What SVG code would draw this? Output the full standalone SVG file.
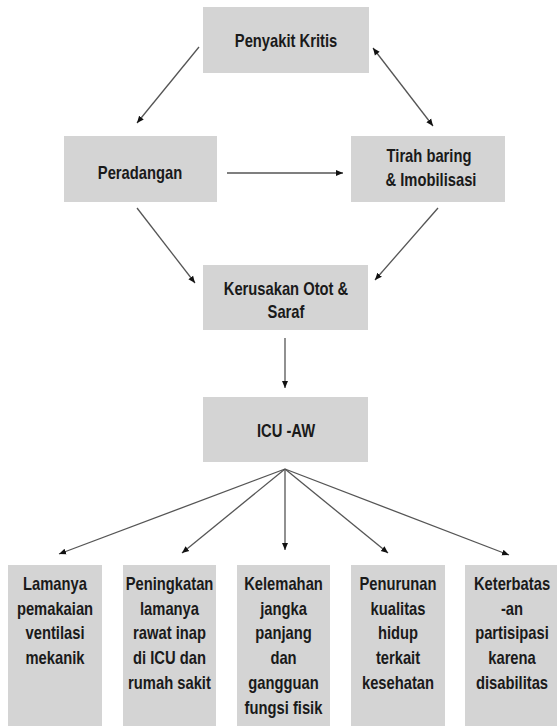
<svg xmlns="http://www.w3.org/2000/svg" width="557" height="726" viewBox="0 0 557 726">
<style>
.box{fill:#d4d4d4;}
.t{font-family:"Liberation Sans",Arial,sans-serif;font-weight:bold;font-size:18px;fill:#1a1a1a;text-anchor:middle;}
.c{stroke:#555;stroke-width:1.3;fill:none;marker-end:url(#ah);}
</style>
<defs>
<marker id="ah" markerUnits="userSpaceOnUse" markerWidth="8" markerHeight="8" refX="7" refY="4" orient="auto">
<path d="M0,1 L7,4 L0,7 Z" fill="#111"/>
</marker>
<marker id="as" markerUnits="userSpaceOnUse" markerWidth="8" markerHeight="8" refX="0" refY="4" orient="auto">
<path d="M7,1 L0,4 L7,7 Z" fill="#111"/>
</marker>
</defs>
<rect width="557" height="726" fill="#fff"/>
<g id="connectors">
<line class="c" x1="199" y1="47" x2="137" y2="123"/>
<line class="c" x1="373" y1="48" x2="433" y2="126" marker-start="url(#as)"/>
<line class="c" x1="227" y1="173" x2="343" y2="173"/>
<line class="c" x1="137" y1="208" x2="195" y2="283"/>
<line class="c" x1="438" y1="208" x2="375" y2="280"/>
<line class="c" x1="285" y1="338" x2="285" y2="388"/>
<line class="c" x1="285" y1="469" x2="59" y2="554"/>
<line class="c" x1="285" y1="469" x2="182" y2="553"/>
<line class="c" x1="285" y1="469" x2="285" y2="550"/>
<line class="c" x1="285" y1="469" x2="388" y2="553"/>
<line class="c" x1="285" y1="469" x2="509" y2="555"/>
</g>
<g id="penyakit-kritis">
<rect class="box" x="203" y="7" width="166" height="66"/>
<text class="t" transform="matrix(.82 0 0 1 286 47)">Penyakit Kritis</text>
</g>
<g id="peradangan">
<rect class="box" x="64" y="136" width="153" height="66"/>
<text class="t" transform="matrix(.82 0 0 1 140 179)">Peradangan</text>
</g>
<g id="tirah-baring">
<rect class="box" x="351" y="136" width="154" height="66"/>
<text class="t" transform="matrix(.82 0 0 1 429 162)">Tirah baring</text>
<text class="t" transform="matrix(.82 0 0 1 431 186)">&amp; Imobilisasi</text>
</g>
<g id="kerusakan">
<rect class="box" x="203" y="265" width="165" height="65"/>
<text class="t" transform="matrix(.82 0 0 1 286 295)">Kerusakan Otot &amp;</text>
<text class="t" transform="matrix(.82 0 0 1 286 318)">Saraf</text>
</g>
<g id="icu-aw">
<rect class="box" x="203" y="397" width="165" height="65"/>
<text class="t" transform="matrix(.82 0 0 1 286 437)">ICU -AW</text>
</g>
<g id="lamanya">
<rect class="box" x="8" y="565" width="94" height="165"/>
<text class="t" transform="matrix(.82 0 0 1 55 590)">Lamanya</text>
<text class="t" transform="matrix(.82 0 0 1 55 614.7)">pemakaian</text>
<text class="t" transform="matrix(.82 0 0 1 55 639.4)">ventilasi</text>
<text class="t" transform="matrix(.82 0 0 1 55 664.1)">mekanik</text>
</g>
<g id="peningkatan">
<rect class="box" x="123" y="565" width="93" height="165"/>
<text class="t" transform="matrix(.82 0 0 1 169.5 590)">Peningkatan</text>
<text class="t" transform="matrix(.82 0 0 1 169.5 614.7)">lamanya</text>
<text class="t" transform="matrix(.82 0 0 1 169.5 639.4)">rawat inap</text>
<text class="t" transform="matrix(.82 0 0 1 169.5 664.1)">di ICU dan</text>
<text class="t" transform="matrix(.82 0 0 1 169.5 688.8)">rumah sakit</text>
</g>
<g id="kelemahan">
<rect class="box" x="237" y="565" width="93" height="165"/>
<text class="t" transform="matrix(.82 0 0 1 283.5 590)">Kelemahan</text>
<text class="t" transform="matrix(.82 0 0 1 283.5 614.7)">jangka</text>
<text class="t" transform="matrix(.82 0 0 1 283.5 639.4)">panjang</text>
<text class="t" transform="matrix(.82 0 0 1 283.5 664.1)">dan</text>
<text class="t" transform="matrix(.82 0 0 1 283.5 688.8)">gangguan</text>
<text class="t" transform="matrix(.82 0 0 1 283.5 713.5)">fungsi fisik</text>
</g>
<g id="penurunan">
<rect class="box" x="351" y="565" width="94" height="165"/>
<text class="t" transform="matrix(.82 0 0 1 398 590)">Penurunan</text>
<text class="t" transform="matrix(.82 0 0 1 398 614.7)">kualitas</text>
<text class="t" transform="matrix(.82 0 0 1 398 639.4)">hidup</text>
<text class="t" transform="matrix(.82 0 0 1 398 664.1)">terkait</text>
<text class="t" transform="matrix(.82 0 0 1 398 688.8)">kesehatan</text>
</g>
<g id="keterbatasan">
<rect class="box" x="465" y="565" width="96" height="165"/>
<text class="t" transform="matrix(.82 0 0 1 512 590)">Keterbatas</text>
<text class="t" transform="matrix(.82 0 0 1 512 614.7)">-an</text>
<text class="t" transform="matrix(.82 0 0 1 512 639.4)">partisipasi</text>
<text class="t" transform="matrix(.82 0 0 1 512 664.1)">karena</text>
<text class="t" transform="matrix(.82 0 0 1 512 688.8)">disabilitas</text>
</g>
</svg>
